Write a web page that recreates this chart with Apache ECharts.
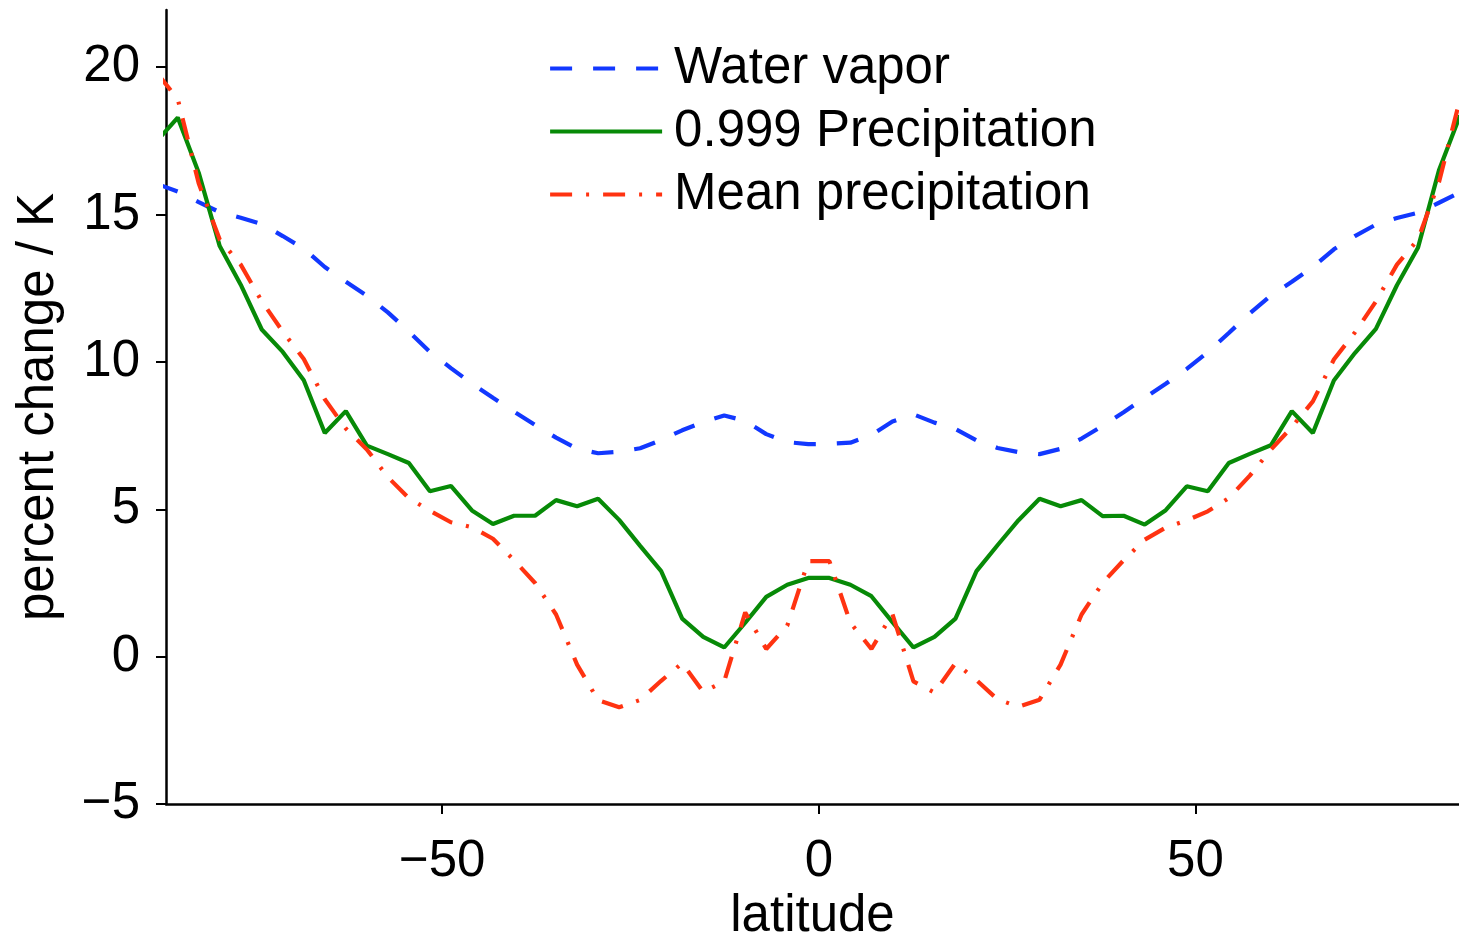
<!DOCTYPE html>
<html>
<head>
<meta charset="utf-8">
<script src="https://cdn.jsdelivr.net/npm/echarts@6/dist/echarts.min.js"></script>
<style>
html,body{margin:0;padding:0;background:#fff;}
#chart{width:1459px;height:937px;}
</style>
</head>
<body>
<div id="chart"></div>
<script>
const lat = [-87.86, -85.10, -82.32, -79.53, -76.74, -73.95, -71.16, -68.37, -65.58, -62.79, -60.00, -57.21, -54.42, -51.63, -48.84, -46.05,
  -43.26, -40.46, -37.67, -34.88, -32.09, -29.30, -26.51, -23.72, -20.93, -18.14, -15.35, -12.56, -9.77, -6.98, -4.19, -1.40,
  1.40, 4.19, 6.98, 9.77, 12.56, 15.35, 18.14, 20.93, 23.72, 26.51, 29.30, 32.09, 34.88, 37.67, 40.46, 43.26,
  46.05, 48.84, 51.63, 54.42, 57.21, 60.00, 62.79, 65.58, 68.37, 71.16, 73.95, 76.74, 79.53, 82.32, 85.10, 87.86];

const waterVapor = [16.04, 15.78, 15.42, 15.08, 14.89, 14.68, 14.27, 13.84, 13.22, 12.72, 12.25, 11.68, 11.03, 10.34, 9.79, 9.26,
  8.78, 8.31, 7.86, 7.43, 7.05, 6.90, 6.95, 7.07, 7.35, 7.68, 7.96, 8.18, 8.00, 7.55, 7.28, 7.21,
  7.22, 7.26, 7.52, 7.98, 8.22, 7.94, 7.72, 7.34, 7.08, 6.94, 6.87, 7.05, 7.40, 7.83, 8.29, 8.78,
  9.26, 9.76, 10.33, 10.98, 11.65, 12.25, 12.72, 13.22, 13.82, 14.27, 14.66, 14.88, 15.06, 15.40, 15.75, 16.00];

const precip999 = [17.50, 18.29, 16.42, 13.93, 12.62, 11.10, 10.34, 9.38, 7.59, 8.33, 7.16, 6.87, 6.57, 5.61, 5.79, 4.96,
  4.50, 4.78, 4.78, 5.31, 5.10, 5.36, 4.64, 3.76, 2.90, 1.29, 0.67, 0.31, 1.15, 2.03, 2.44, 2.67,
  2.67, 2.44, 2.05, 1.17, 0.31, 0.67, 1.29, 2.90, 3.78, 4.63, 5.36, 5.10, 5.31, 4.77, 4.78, 4.48,
  4.97, 5.78, 5.61, 6.57, 6.88, 7.17, 8.33, 7.59, 9.37, 10.30, 11.12, 12.60, 13.87, 16.50, 18.35, 17.50];

const meanPrecip = [19.80, 18.92, 16.06, 14.15, 13.30, 12.06, 11.03, 10.10, 8.73, 7.74, 7.03, 6.09, 5.38, 4.95, 4.56, 4.39,
  4.00, 3.27, 2.50, 1.43, -0.27, -1.48, -1.72, -1.47, -0.82, -0.22, -1.20, -0.84, 1.50, 0.26, 1.05, 3.24,
  3.24, 1.15, 0.26, 1.45, -0.84, -1.22, -0.22, -0.80, -1.45, -1.70, -1.46, -0.27, 1.43, 2.50, 3.27, 3.97,
  4.38, 4.62, 4.93, 5.38, 6.14, 7.02, 7.79, 8.66, 10.08, 11.00, 12.05, 13.30, 14.15, 16.10, 18.90, 19.80];

const seriesNames = ['Water vapor', '0.999 Precipitation', 'Mean precipitation'];
const xTicks = [-50, 0, 50];
const yTicks = [-5, 0, 5, 10, 15, 20];
const xLabel = 'latitude';
const yLabel = 'percent change / K';

const pair = arr => lat.map((x, i) => [x, arr[i]]);
const fmt = v => (v < 0 ? '\u2212' + Math.abs(v) : String(v));
const FONT = 'Liberation Sans';
const FS = 51;
const LW = 4.2;

const chart = echarts.init(document.getElementById('chart'), null, {renderer: 'canvas'});
chart.setOption({
  animation: false,
  backgroundColor: '#ffffff',
  grid: {left: 166, top: 10, right: 0, bottom: 133, containLabel: false, outerBoundsMode: 'none'},
  legend: {
    orient: 'vertical',
    left: 548,
    top: 43,
    padding: 0,
    itemGap: 12,
    itemWidth: 112,
    itemHeight: 20,
    itemStyle: {opacity: 0},
    lineStyle: {width: LW},
    data: seriesNames,
    textStyle: {fontFamily: FONT, fontSize: FS, color: '#000', padding: [0, 0, 0, 7]}
  },
  xAxis: {
    type: 'value',
    min: -86.66,
    max: 84.98,
    name: xLabel,
    nameLocation: 'middle',
    nameGap: 86,
    nameTextStyle: {fontFamily: FONT, fontSize: FS, color: '#000'},
    axisLine: {onZero: false, lineStyle: {color: '#000', width: 2.5}},
    axisTick: {show: true, inside: false, length: 10, lineStyle: {color: '#000', width: 2}, customValues: xTicks},
    axisLabel: {fontFamily: FONT, fontSize: FS, color: '#000', margin: 32, customValues: xTicks, formatter: fmt},
    splitLine: {show: false}
  },
  yAxis: {
    type: 'value',
    min: -5,
    max: 21.94,
    name: yLabel,
    nameLocation: 'middle',
    nameGap: 102,
    nameRotate: 90,
    nameTextStyle: {fontFamily: FONT, fontSize: FS, color: '#000'},
    axisLine: {onZero: false, lineStyle: {color: '#000', width: 2.5}},
    axisTick: {show: true, inside: false, length: 10, lineStyle: {color: '#000', width: 2}, customValues: yTicks},
    axisLabel: {fontFamily: FONT, fontSize: FS, color: '#000', margin: 26, customValues: yTicks, formatter: fmt},
    splitLine: {show: false}
  },
  series: [
    {
      name: seriesNames[0], type: 'line', data: pair(waterVapor), symbol: 'none', clip: true,
      lineStyle: {color: '#1238ff', width: LW, type: [22, 21], cap: 'butt'},
      itemStyle: {color: '#1238ff'}
    },
    {
      name: seriesNames[1], type: 'line', data: pair(precip999), symbol: 'none', clip: true,
      lineStyle: {color: '#078a07', width: LW, type: 'solid'},
      itemStyle: {color: '#078a07'}
    },
    {
      name: seriesNames[2], type: 'line', data: pair(meanPrecip), symbol: 'none', clip: true,
      lineStyle: {color: '#ff3311', width: LW, type: [22, 14, 3, 14], cap: 'butt'},
      itemStyle: {color: '#ff3311'}
    }
  ]
});
</script>
</body>
</html>
